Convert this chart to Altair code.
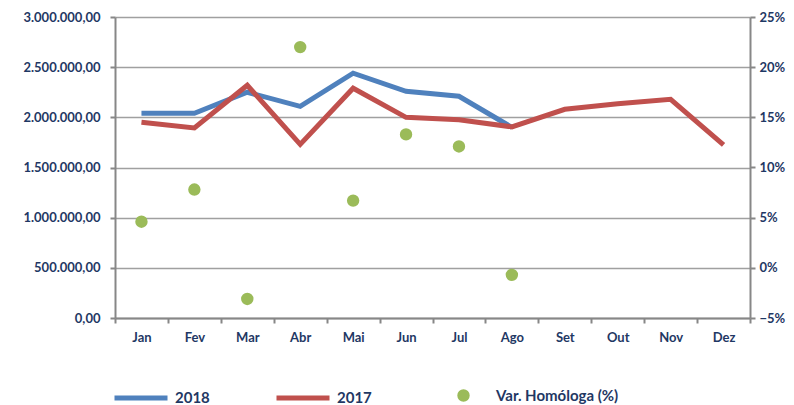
import altair as alt
import pandas as pd

months = ["Jan", "Fev", "Mar", "Abr", "Mai", "Jun", "Jul", "Ago", "Set", "Out", "Nov", "Dez"]
v2018 = [2040000, 2040000, 2250000, 2110000, 2440000, 2260000, 2210000, 1900000, None, None, None, None]
v2017 = [1950000, 1895000, 2320000, 1730000, 2290000, 2000000, 1975000, 1905000, 2080000, 2135000, 2180000, 1725000]
var_hom = [0.046, 0.078, -0.031, 0.220, 0.067, 0.133, 0.121, -0.007]
series_names = ["2018", "2017"]
var_name = "Var. Homóloga (%)"

rows = []
for m, a, b in zip(months, v2018, v2017):
    if a is not None:
        rows.append({"mes": m, "serie": "2018", "valor": a})
    rows.append({"mes": m, "serie": "2017", "valor": b})
lines_df = pd.DataFrame(rows)
pts_df = pd.DataFrame({"mes": months[:len(var_hom)], "var": var_hom, "lbl": var_name})

ink = "#1F3864"
font = "Lato"

xenc = alt.X("mes:N", sort=months,
             scale=alt.Scale(type="band", domain=months, paddingInner=0, paddingOuter=0),
             axis=alt.Axis(title=None, labelAngle=0, tickBand="extent", grid=False,
                           labelPadding=8, tickSize=5))

ptlabel = "replace(replace(replace(format(datum.value, ',.2f'), regexp(',', 'g'), '#'), '.', ','), regexp('#', 'g'), '.')"

lines = alt.Chart(lines_df).mark_line(strokeWidth=5).encode(
    x=xenc,
    y=alt.Y("valor:Q",
            scale=alt.Scale(domain=[0, 3000000], nice=False, zero=False),
            axis=alt.Axis(title=None, orient="left", values=[0, 500000, 1000000, 1500000, 2000000, 2500000, 3000000],
                          labelExpr=ptlabel, grid=True, labelPadding=10, tickSize=5)),
    color=alt.Color("serie:N",
                    scale=alt.Scale(domain=series_names, range=["#4F81BD", "#C0504D"]),
                    legend=alt.Legend(orient="none", legendX=-3, legendY=352, direction="horizontal",
                                      title=None, symbolType="stroke", symbolSize=2809,
                                      symbolStrokeWidth=5, labelFont=font, labelFontSize=15,
                                      labelFontWeight="bold", labelColor=ink,
                                      columnPadding=56, labelOffset=5)),
)

points = alt.Chart(pts_df).mark_circle(size=154, opacity=1).encode(
    x=xenc,
    y=alt.Y("var:Q",
            scale=alt.Scale(domain=[-0.05, 0.25], nice=False, zero=False),
            axis=alt.Axis(title=None, orient="right", format=".0%",
                          values=[-0.05, 0, 0.05, 0.10, 0.15, 0.20, 0.25],
                          grid=False, labelPadding=4, tickSize=5)),
    color=alt.Color("lbl:N",
                    scale=alt.Scale(domain=[var_name], range=["#9BBB59"]),
                    legend=alt.Legend(orient="none", legendX=341, legendY=371, title=None,
                                      symbolType="circle", symbolSize=154,
                                      labelFont=font, labelFontSize=15, labelFontWeight="bold",
                                      labelColor=ink, labelOffset=25)),
)

chart = alt.layer(lines, points).resolve_scale(y="independent", color="independent").properties(
    width=635, height=301,
    autosize=alt.AutoSizeParams(type="none"),
    padding={"left": 107, "top": 9, "right": 36, "bottom": 88},
).configure_view(stroke=None).configure_axis(
    labelFont=font, labelFontSize=13, labelFontWeight="bold", labelColor=ink,
    domainColor="#878787", domainWidth=2, tickColor="#878787", tickWidth=2,
    gridColor="#A0A0A0", gridWidth=1.5,
)

chart.save("out.html", embed_options={"renderer": "svg", "actions": False})
